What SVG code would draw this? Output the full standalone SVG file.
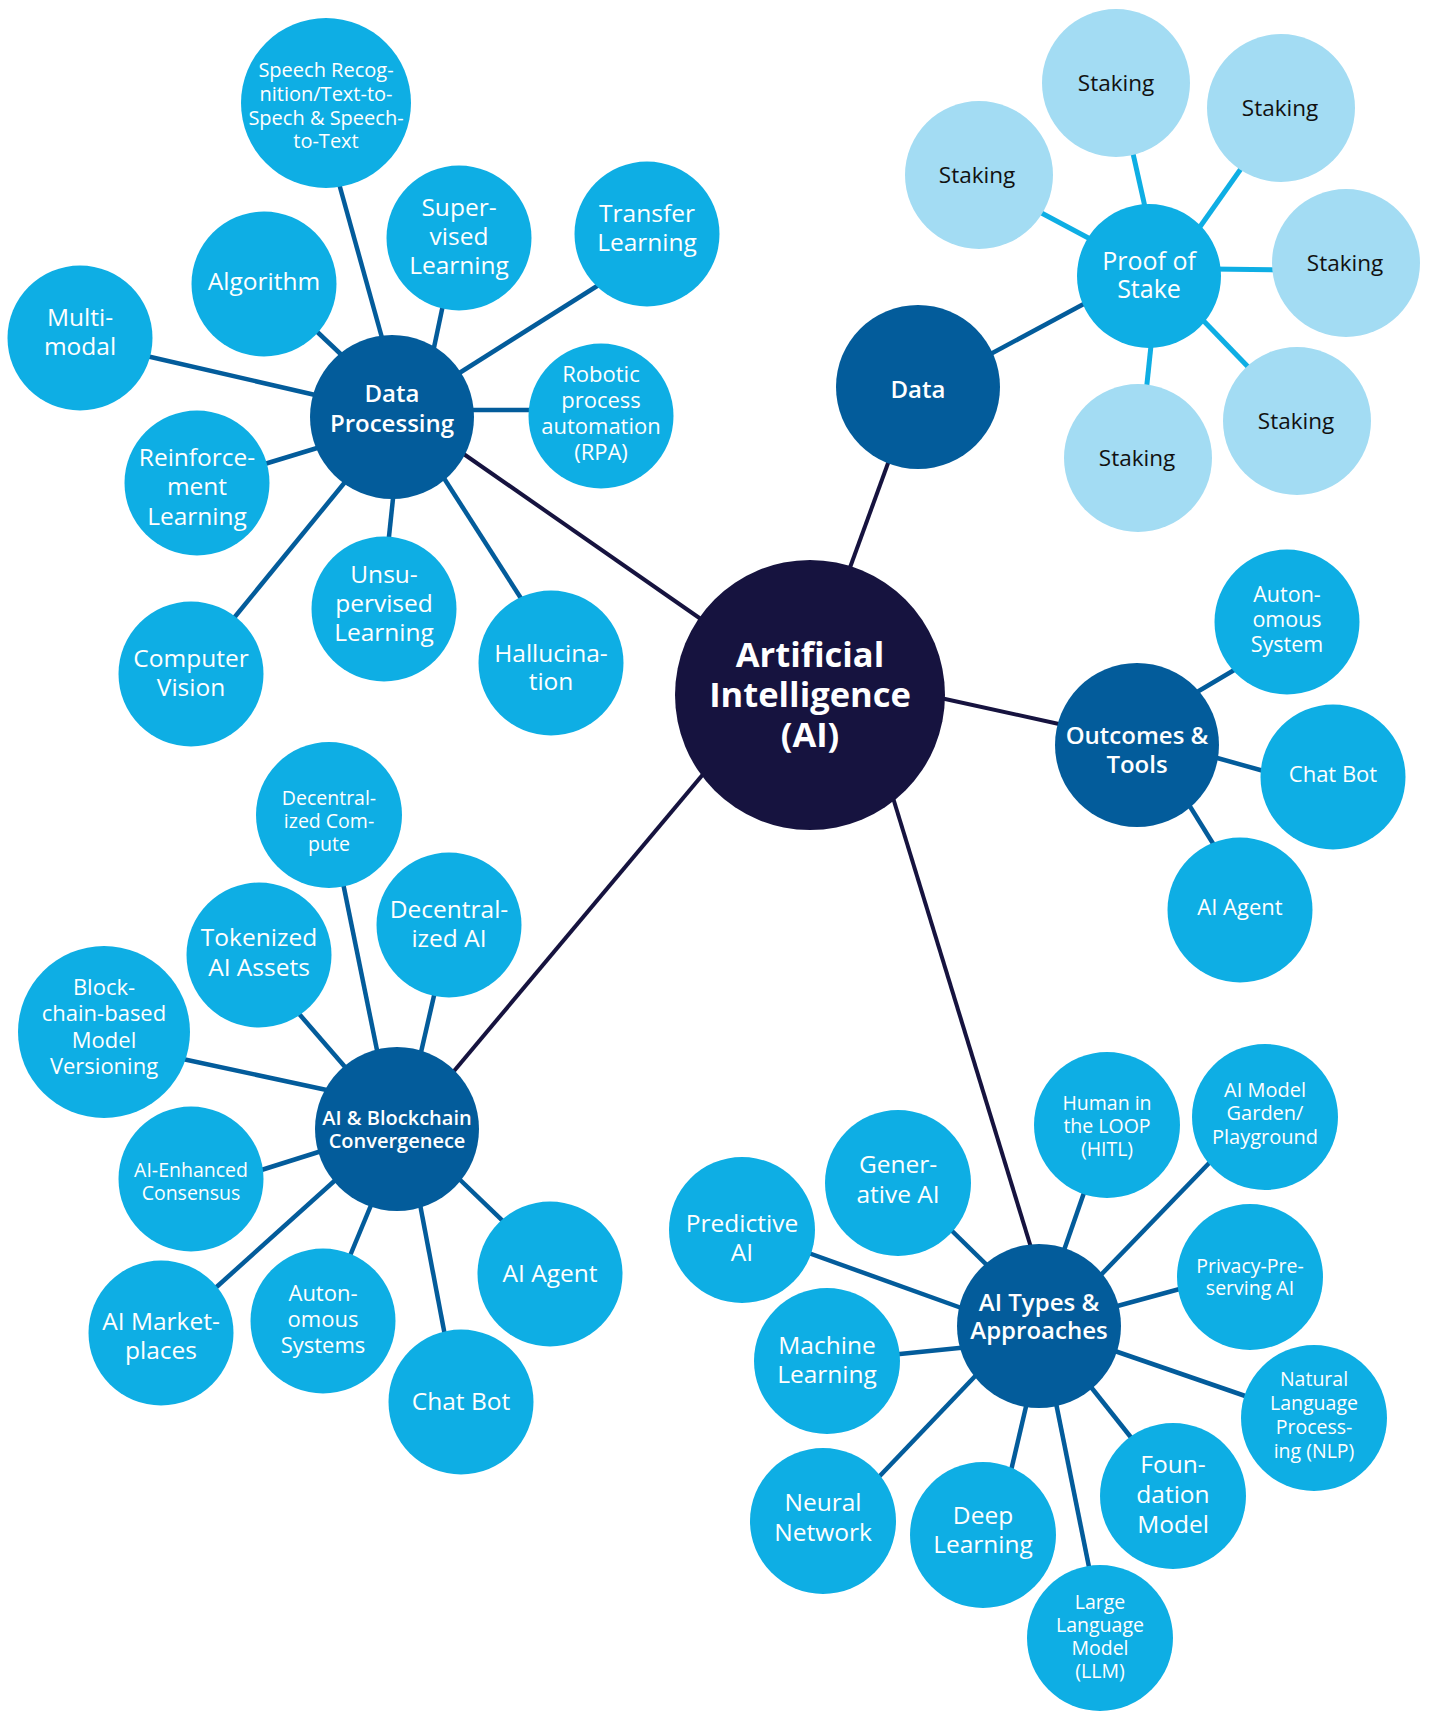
<svg xmlns="http://www.w3.org/2000/svg" width="1429" height="1712" viewBox="0 0 1429 1712">
<style>
.c-core{fill:#16133f}
.c-hub{fill:#035c9b}
.c-leaf{fill:#0eaee4}
.c-stk{fill:#a3dcf3}
text{font-family:"Open Sans","Noto Sans","DejaVu Sans",sans-serif;text-anchor:middle;fill:#fff}
.t-core{font-size:34.5px;font-weight:700}
.t-hub{font-size:24px;font-weight:600}
.t-hubs{font-size:20px;font-weight:600}
.t-l{font-size:24.5px}
.t-m{font-size:22px}
.t-s{font-size:19.5px}
.t-stk{font-size:22.5px;fill:#111}
.l-core{stroke:#16133f;stroke-width:4;fill:none}
.l-hub{stroke:#035c9b;stroke-width:4.5;fill:none}
.l-stk{stroke:#0eaee4;stroke-width:5;fill:none}
</style>
<rect width="1429" height="1712" fill="#fff"/>
<g id="connectors">
<line class="l-core" x1="458" y1="450" x2="708" y2="624"/>
<line class="l-core" x1="891" y1="455" x2="844" y2="584"/>
<line class="l-core" x1="936" y1="697" x2="1068" y2="726"/>
<line class="l-core" x1="449" y1="1077" x2="715" y2="760"/>
<line class="l-core" x1="890" y1="788" x2="1033" y2="1254"/>
<line class="l-hub" x1="338" y1="180" x2="384" y2="345"/>
<line class="l-hub" x1="444" y1="300" x2="432" y2="357"/>
<line class="l-hub" x1="605" y1="281" x2="453" y2="377"/>
<line class="l-hub" x1="311" y1="326" x2="348" y2="361"/>
<line class="l-hub" x1="142" y1="355" x2="324" y2="397"/>
<line class="l-hub" x1="464" y1="410" x2="539" y2="410"/>
<line class="l-hub" x1="258" y1="466" x2="327" y2="445"/>
<line class="l-hub" x1="394" y1="489" x2="388" y2="546"/>
<line class="l-hub" x1="440" y1="472" x2="524" y2="603"/>
<line class="l-hub" x1="350" y1="476" x2="229" y2="624"/>
<line class="l-hub" x1="985" y1="357" x2="1093" y2="299"/>
<line class="l-stk" x1="1034" y1="209" x2="1094" y2="241"/>
<line class="l-stk" x1="1132" y1="149" x2="1145" y2="207"/>
<line class="l-stk" x1="1245" y1="163" x2="1197" y2="231"/>
<line class="l-stk" x1="1211" y1="269" x2="1283" y2="270"/>
<line class="l-stk" x1="1197" y1="314" x2="1253" y2="372"/>
<line class="l-stk" x1="1152" y1="336" x2="1146" y2="393"/>
<line class="l-hub" x1="1192" y1="695" x2="1241" y2="666"/>
<line class="l-hub" x1="1210" y1="756" x2="1271" y2="773"/>
<line class="l-hub" x1="1186" y1="800" x2="1217" y2="850"/>
<line class="l-hub" x1="342" y1="878" x2="379" y2="1060"/>
<line class="l-hub" x1="436" y1="987" x2="419" y2="1061"/>
<line class="l-hub" x1="294" y1="1008" x2="352" y2="1075"/>
<line class="l-hub" x1="178" y1="1058" x2="336" y2="1092"/>
<line class="l-hub" x1="255" y1="1172" x2="328" y2="1149"/>
<line class="l-hub" x1="211" y1="1292" x2="341" y2="1175"/>
<line class="l-hub" x1="347" y1="1263" x2="374" y2="1198"/>
<line class="l-hub" x1="446" y1="1341" x2="419" y2="1199"/>
<line class="l-hub" x1="509" y1="1227" x2="454" y2="1174"/>
<line class="l-hub" x1="1086" y1="1187" x2="1062" y2="1256"/>
<line class="l-hub" x1="1214" y1="1158" x2="1096" y2="1280"/>
<line class="l-hub" x1="1187" y1="1287" x2="1110" y2="1308"/>
<line class="l-hub" x1="1254" y1="1399" x2="1109" y2="1349"/>
<line class="l-hub" x1="1137" y1="1445" x2="1087" y2="1382"/>
<line class="l-hub" x1="1091" y1="1577" x2="1055" y2="1398"/>
<line class="l-hub" x1="1010" y1="1475" x2="1028" y2="1398"/>
<line class="l-hub" x1="875" y1="1481" x2="981" y2="1370"/>
<line class="l-hub" x1="890" y1="1355" x2="969" y2="1347"/>
<line class="l-hub" x1="803" y1="1251" x2="967" y2="1310"/>
<line class="l-hub" x1="946" y1="1225" x2="993" y2="1271"/>
</g>
<g id="node-ai"><circle class="c-core" cx="810" cy="695" r="135"/><text class="t-core"><tspan x="810" y="667">Artificial</tspan><tspan x="810" y="707">Intelligence</tspan><tspan x="810" y="747">(AI)</tspan></text></g>
<g id="node-data-processing"><circle class="c-hub" cx="392" cy="417" r="82"/><text class="t-hub"><tspan x="392" y="402">Data</tspan><tspan x="392" y="432">Processing</tspan></text></g>
<g id="node-data"><circle class="c-hub" cx="918" cy="387" r="82"/><text class="t-hub" x="918" y="398">Data</text></g>
<g id="node-outcomes"><circle class="c-hub" cx="1137" cy="745" r="82"/><text class="t-hub"><tspan x="1137" y="744">Outcomes &amp;</tspan><tspan x="1137" y="773">Tools</tspan></text></g>
<g id="node-blockchain"><circle class="c-hub" cx="397" cy="1129" r="82"/><text class="t-hubs"><tspan x="397" y="1125">AI &amp; Blockchain</tspan><tspan x="397" y="1148">Convergenece</tspan></text></g>
<g id="node-types"><circle class="c-hub" cx="1039" cy="1326" r="82"/><text class="t-hub"><tspan x="1039" y="1311">AI Types &amp;</tspan><tspan x="1039" y="1339">Approaches</tspan></text></g>
<g id="node-pos"><circle class="c-leaf" cx="1149" cy="276" r="72"/><text style="font-size:25px"><tspan x="1149" y="270">Proof of</tspan><tspan x="1149" y="298">Stake</tspan></text></g>
<g id="node-staking-1"><circle class="c-stk" cx="979" cy="175" r="74"/><text class="t-stk" x="977" y="183">Staking</text></g>
<g id="node-staking-2"><circle class="c-stk" cx="1116" cy="83" r="74"/><text class="t-stk" x="1116" y="91">Staking</text></g>
<g id="node-staking-3"><circle class="c-stk" cx="1281" cy="108" r="74"/><text class="t-stk" x="1280" y="116">Staking</text></g>
<g id="node-staking-4"><circle class="c-stk" cx="1346" cy="263" r="74"/><text class="t-stk" x="1345" y="271">Staking</text></g>
<g id="node-staking-5"><circle class="c-stk" cx="1297" cy="421" r="74"/><text class="t-stk" x="1296" y="429">Staking</text></g>
<g id="node-staking-6"><circle class="c-stk" cx="1138" cy="458" r="74"/><text class="t-stk" x="1137" y="466">Staking</text></g>
<g id="node-speech"><circle class="c-leaf" cx="326" cy="103" r="85"/><text class="t-s" style="font-size:20px"><tspan x="326" y="77">Speech Recog-</tspan><tspan x="326" y="101">nition/Text-to-</tspan><tspan x="326" y="125">Spech &amp; Speech-</tspan><tspan x="326" y="148">to-Text</tspan></text></g>
<g id="node-supervised"><circle class="c-leaf" cx="459" cy="238" r="72.5"/><text class="t-l"><tspan x="459" y="216">Super-</tspan><tspan x="459" y="245">vised</tspan><tspan x="459" y="274">Learning</tspan></text></g>
<g id="node-transfer"><circle class="c-leaf" cx="647" cy="234" r="72.5"/><text class="t-l"><tspan x="647" y="222">Transfer</tspan><tspan x="647" y="251">Learning</tspan></text></g>
<g id="node-algorithm"><circle class="c-leaf" cx="264" cy="284" r="72.5"/><text class="t-l" x="264" y="290">Algorithm</text></g>
<g id="node-multimodal"><circle class="c-leaf" cx="80" cy="338" r="72.5"/><text class="t-l"><tspan x="80" y="326">Multi-</tspan><tspan x="80" y="355">modal</tspan></text></g>
<g id="node-rpa"><circle class="c-leaf" cx="601" cy="416" r="72.5"/><text class="t-m"><tspan x="601" y="382">Robotic</tspan><tspan x="601" y="408">process</tspan><tspan x="601" y="434">automation</tspan><tspan x="601" y="460">(RPA)</tspan></text></g>
<g id="node-reinforcement"><circle class="c-leaf" cx="197" cy="483" r="72.5"/><text class="t-l"><tspan x="197" y="466">Reinforce-</tspan><tspan x="197" y="495">ment</tspan><tspan x="197" y="525">Learning</tspan></text></g>
<g id="node-unsupervised"><circle class="c-leaf" cx="384" cy="609" r="72.5"/><text class="t-l"><tspan x="384" y="583">Unsu-</tspan><tspan x="384" y="612">pervised</tspan><tspan x="384" y="641">Learning</tspan></text></g>
<g id="node-hallucination"><circle class="c-leaf" cx="551" cy="663" r="72.5"/><text class="t-l"><tspan x="551" y="662">Hallucina-</tspan><tspan x="551" y="690">tion</tspan></text></g>
<g id="node-vision"><circle class="c-leaf" cx="191" cy="674" r="72.5"/><text class="t-l"><tspan x="191" y="667">Computer</tspan><tspan x="191" y="696">Vision</tspan></text></g>
<g id="node-autonomous-system"><circle class="c-leaf" cx="1287" cy="622" r="72.5"/><text style="font-size:21.5px"><tspan x="1287" y="602">Auton-</tspan><tspan x="1287" y="627">omous</tspan><tspan x="1287" y="652">System</tspan></text></g>
<g id="node-chatbot-1"><circle class="c-leaf" cx="1333" cy="777" r="72.5"/><text class="t-m" x="1333" y="782">Chat Bot</text></g>
<g id="node-agent-1"><circle class="c-leaf" cx="1240" cy="910" r="72.5"/><text class="t-m" x="1240" y="915">AI Agent</text></g>
<g id="node-dec-compute"><circle class="c-leaf" cx="329" cy="815" r="73"/><text class="t-s"><tspan x="329" y="805">Decentral-</tspan><tspan x="329" y="828">ized Com-</tspan><tspan x="329" y="851">pute</tspan></text></g>
<g id="node-dec-ai"><circle class="c-leaf" cx="449" cy="925" r="72.5"/><text class="t-l"><tspan x="449" y="918">Decentral-</tspan><tspan x="449" y="947">ized AI</tspan></text></g>
<g id="node-tokenized"><circle class="c-leaf" cx="259" cy="955" r="72.5"/><text class="t-l"><tspan x="259" y="946">Tokenized</tspan><tspan x="259" y="976">AI Assets</tspan></text></g>
<g id="node-versioning"><circle class="c-leaf" cx="104" cy="1032" r="86"/><text class="t-m"><tspan x="104" y="995">Block-</tspan><tspan x="104" y="1021">chain-based</tspan><tspan x="104" y="1048">Model</tspan><tspan x="104" y="1074">Versioning</tspan></text></g>
<g id="node-consensus"><circle class="c-leaf" cx="191" cy="1179" r="72.5"/><text class="t-s"><tspan x="191" y="1177">AI-Enhanced</tspan><tspan x="191" y="1200">Consensus</tspan></text></g>
<g id="node-marketplaces"><circle class="c-leaf" cx="161" cy="1333" r="72.5"/><text class="t-l"><tspan x="161" y="1330">AI Market-</tspan><tspan x="161" y="1359">places</tspan></text></g>
<g id="node-autonomous-systems"><circle class="c-leaf" cx="323" cy="1321" r="72.5"/><text class="t-m"><tspan x="323" y="1301">Auton-</tspan><tspan x="323" y="1327">omous</tspan><tspan x="323" y="1353">Systems</tspan></text></g>
<g id="node-chatbot-2"><circle class="c-leaf" cx="461" cy="1402" r="72.5"/><text class="t-l" x="461" y="1410">Chat Bot</text></g>
<g id="node-agent-2"><circle class="c-leaf" cx="550" cy="1274" r="72.5"/><text class="t-l" x="550" y="1282">AI Agent</text></g>
<g id="node-hitl"><circle class="c-leaf" cx="1107" cy="1125" r="73"/><text class="t-s"><tspan x="1107" y="1110">Human in</tspan><tspan x="1107" y="1133">the LOOP</tspan><tspan x="1107" y="1156">(HITL)</tspan></text></g>
<g id="node-garden"><circle class="c-leaf" cx="1265" cy="1117" r="73"/><text class="t-s" style="font-size:20px"><tspan x="1265" y="1097">AI Model</tspan><tspan x="1265" y="1120">Garden/</tspan><tspan x="1265" y="1144">Playground</tspan></text></g>
<g id="node-privacy"><circle class="c-leaf" cx="1250" cy="1277" r="73"/><text class="t-s"><tspan x="1250" y="1273">Privacy-Pre-</tspan><tspan x="1250" y="1295">serving AI</tspan></text></g>
<g id="node-nlp"><circle class="c-leaf" cx="1314" cy="1418" r="73"/><text class="t-s"><tspan x="1314" y="1386">Natural</tspan><tspan x="1314" y="1410">Language</tspan><tspan x="1314" y="1434">Process-</tspan><tspan x="1314" y="1458">ing (NLP)</tspan></text></g>
<g id="node-foundation"><circle class="c-leaf" cx="1173" cy="1496" r="73"/><text class="t-l"><tspan x="1173" y="1473">Foun-</tspan><tspan x="1173" y="1503">dation</tspan><tspan x="1173" y="1533">Model</tspan></text></g>
<g id="node-llm"><circle class="c-leaf" cx="1100" cy="1638" r="73"/><text class="t-s"><tspan x="1100" y="1609">Large</tspan><tspan x="1100" y="1632">Language</tspan><tspan x="1100" y="1655">Model</tspan><tspan x="1100" y="1678">(LLM)</tspan></text></g>
<g id="node-deep"><circle class="c-leaf" cx="983" cy="1535" r="73"/><text class="t-l"><tspan x="983" y="1524">Deep</tspan><tspan x="983" y="1553">Learning</tspan></text></g>
<g id="node-neural"><circle class="c-leaf" cx="823" cy="1521" r="73"/><text class="t-l"><tspan x="823" y="1511">Neural</tspan><tspan x="823" y="1541">Network</tspan></text></g>
<g id="node-machine"><circle class="c-leaf" cx="827" cy="1361" r="73"/><text class="t-l"><tspan x="827" y="1354">Machine</tspan><tspan x="827" y="1383">Learning</tspan></text></g>
<g id="node-predictive"><circle class="c-leaf" cx="742" cy="1230" r="73"/><text class="t-l"><tspan x="742" y="1232">Predictive</tspan><tspan x="742" y="1261">AI</tspan></text></g>
<g id="node-generative"><circle class="c-leaf" cx="898" cy="1183" r="73"/><text class="t-l"><tspan x="898" y="1173">Gener-</tspan><tspan x="898" y="1203">ative AI</tspan></text></g>
</svg>
